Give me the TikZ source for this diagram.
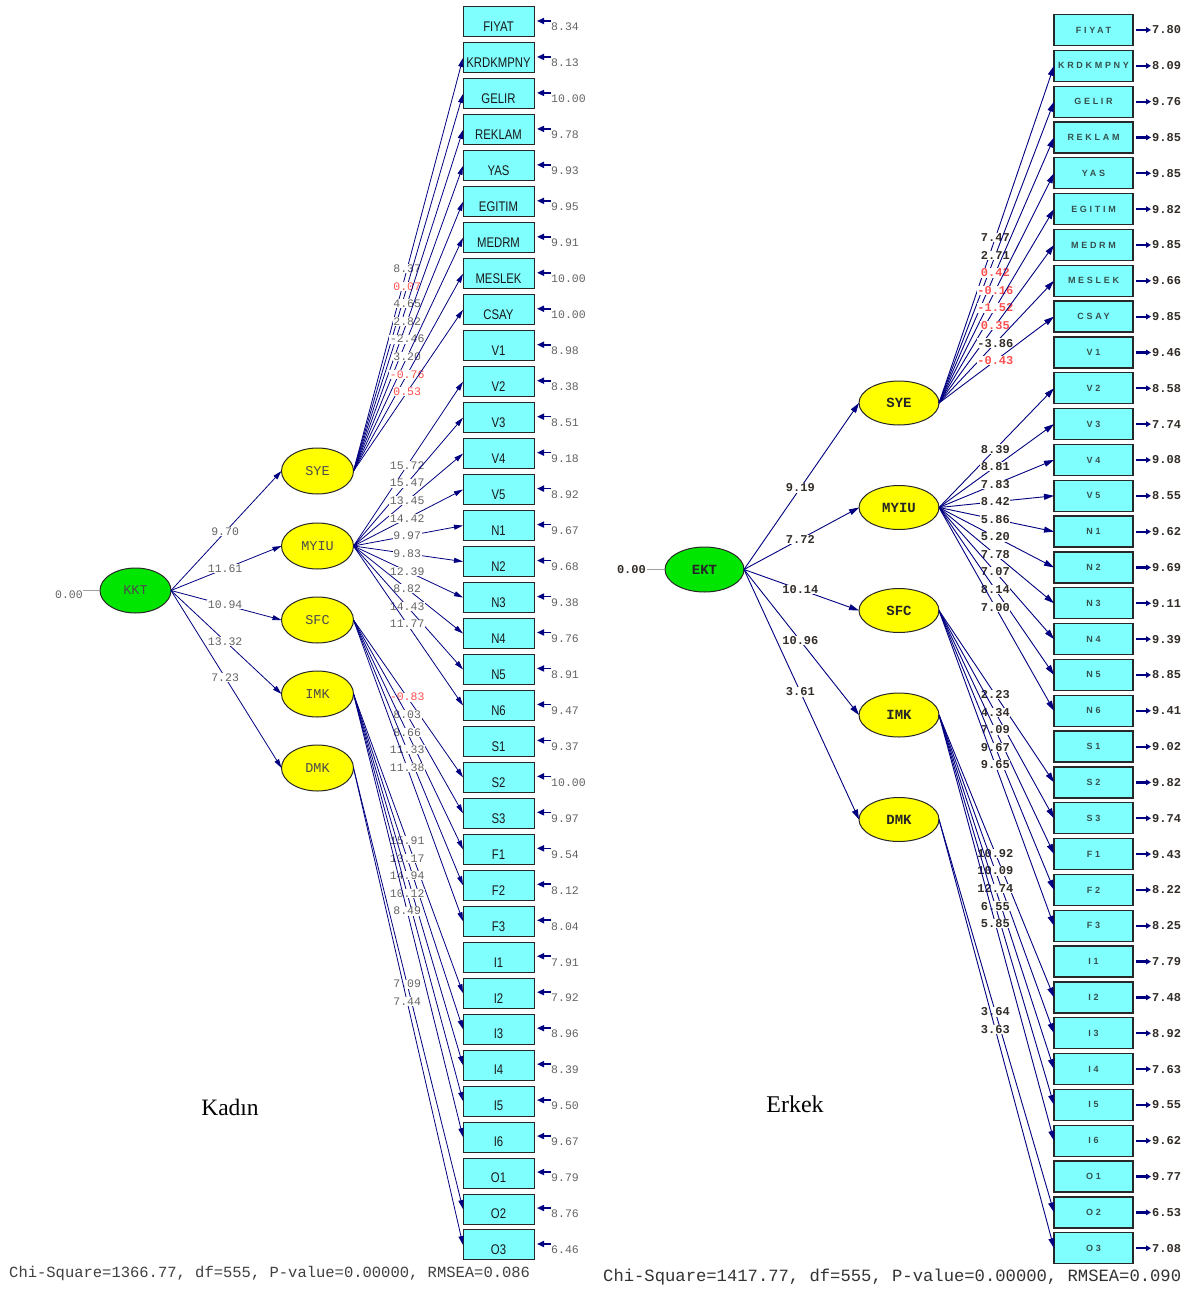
\documentclass[tikz,border=0pt]{standalone}
\usepackage{fontspec}
\setmainfont{Liberation Serif}
\newfontfamily\monof{Liberation Mono}
\newfontfamily\boxf[FakeStretch=0.81]{Liberation Sans}
\newfontfamily\rboxf[LetterSpace=30]{Liberation Sans}
\usetikzlibrary{arrows.meta,shapes.geometric}
\definecolor{pathblue}{RGB}{0,0,128}
\definecolor{boxcyan}{RGB}{128,255,255}
\definecolor{facyellow}{RGB}{255,255,0}
\definecolor{topgreen}{RGB}{0,230,0}
\definecolor{lgray}{RGB}{100,100,100}
\definecolor{sigred}{RGB}{255,80,80}
\definecolor{rdark}{RGB}{50,45,40}
\definecolor{rboxtext}{RGB}{52,80,76}
\definecolor{edge}{RGB}{40,40,40}
\definecolor{zeroline}{RGB}{160,160,160}

\tikzset{
  lbox/.style={draw=edge, line width=1pt, fill=boxcyan, minimum width=71pt, minimum height=30pt, inner sep=0pt, outer sep=0pt},
  rbox/.style={draw=edge, line width=1.3pt, fill=boxcyan, minimum width=79pt, minimum height=31pt, inner sep=0pt, outer sep=0pt, font=\rboxf\bfseries\fontsize{9}{9}\selectfont, text=rboxtext},
  ltext/.style={font=\boxf\fontsize{14}{14}\selectfont, text=black!90, yshift=-5pt, inner sep=0pt},
  latent/.style={ellipse, draw=edge, line width=1pt, inner sep=0pt, outer sep=0pt},
  lfac/.style={latent, fill=facyellow, minimum width=72pt, minimum height=46pt, font=\monof\fontsize{13.5}{14}\selectfont, text=black!70},
  rfac/.style={latent, fill=facyellow, minimum width=80pt, minimum height=44pt, font=\monof\bfseries\fontsize{14}{14}\selectfont, text=black!85},
  ltop/.style={lfac, fill=topgreen, minimum width=71pt, minimum height=45pt},
  rtop/.style={rfac, fill=topgreen, minimum width=79pt, minimum height=45pt},
  lpath/.style={draw=pathblue, line width=0.8pt, -{Triangle[length=9pt,width=5pt]}},
  rpath/.style={draw=pathblue, line width=0.9pt, -{Triangle[length=10pt,width=6pt]}},
  lnum/.style={font=\monof\fontsize{11.5}{11.5}\selectfont, text=lgray, inner sep=0.6pt, fill=white},
  lns/.style={lnum, text=sigred},
  rnum/.style={font=\monof\bfseries\fontsize{12}{12}\selectfont, text=rdark, inner sep=0.6pt, fill=white},
  rns/.style={rnum, text=sigred},
  lerr/.style={font=\monof\fontsize{11.5}{11.5}\selectfont, text=lgray, inner sep=0pt},
  rerr/.style={font=\monof\bfseries\fontsize{12}{12}\selectfont, text=rdark, inner sep=0pt},
  lres/.style={draw=pathblue, line width=1.6pt, -{Triangle[length=7pt,width=6pt]}, shorten >=3pt},
  rres/.style={draw=pathblue, line width=2.2pt, -{Triangle[length=5pt,width=5.5pt]}, shorten <=3pt, shorten >=1pt},
  zline/.style={draw=zeroline, line width=0.8pt},
  fitnote/.style={inner sep=0pt, anchor=west},
}

\begin{document}
\begin{tikzpicture}[x=1pt,y=-1pt]
\fill[white] (0,0) rectangle (1194,1289);
\useasboundingbox (0,0) rectangle (1194,1289);

% ---------------- Kadin model ----------------
\foreach \n [count=\i from 0] in {FIYAT,KRDKMPNY,GELIR,REKLAM,YAS,EGITIM,MEDRM,MESLEK,CSAY,V1,V2,V3,V4,V5,N1,N2,N3,N4,N5,N6,S1,S2,S3,F1,F2,F3,I1,I2,I3,I4,I5,I6,O1,O2,O3}{
  \node[lbox, label={[ltext]center:\n}] (Lb\i) at (498.5,{22+35.97*\i}) {};
}
\foreach \v [count=\i from 0] in {8.34,8.13,10.00,9.78,9.93,9.95,9.91,10.00,10.00,8.98,8.38,8.51,9.18,8.92,9.67,9.68,9.38,9.76,8.91,9.47,9.37,10.00,9.97,9.54,8.12,8.04,7.91,7.92,8.96,8.39,9.50,9.67,9.79,8.76,6.46}{
  \coordinate (Le\i) at ([xshift=17pt,yshift=1pt]Lb\i.east);
  \draw[lres] (Le\i) -- ([yshift=1pt]Lb\i.east);
  \node[lerr, anchor=west] (Ln\i) at ([yshift=-6pt]Le\i) {\v};
}

\node[ltop] (KKT) at (135.5,590.5) {KKT};
\node[lfac] (LSYE) at (317.5,471) {SYE};
\node[lfac] (LMYIU) at (317.5,546) {MYIU};
\node[lfac] (LSFC) at (317.5,620) {SFC};
\node[lfac] (LIMK) at (317.5,694) {IMK};
\node[lfac] (LDMK) at (317.5,768) {DMK};

\coordinate (Lz) at ([xshift=-17pt]KKT.west);
\draw[zline] (Lz) -- (KKT.west);
\node[lerr, anchor=east] (Lzn) at ([yshift=-4pt]Lz) {0.00};

\foreach \f/\v/\k in {SYE/9.70/1,MYIU/11.61/2,SFC/10.94/3,IMK/13.32/4,DMK/7.23/5}{
  \draw[lpath] (KKT.east) -- node[lnum, pos=0.49] (Lg\k) {\v} (L\f.west);
}

\foreach \f/\k/\v/\s in {SYE/1/8.37/lnum,SYE/2/0.07/lns,SYE/3/4.65/lnum,SYE/4/2.82/lnum,SYE/5/-2.46/lnum,SYE/6/3.20/lnum,SYE/7/-0.76/lns,SYE/8/0.53/lns,
  MYIU/10/15.72/lnum,MYIU/11/15.47/lnum,MYIU/12/13.45/lnum,MYIU/13/14.42/lnum,MYIU/14/9.97/lnum,MYIU/15/9.83/lnum,MYIU/16/12.39/lnum,MYIU/17/8.82/lnum,MYIU/18/14.43/lnum,MYIU/19/11.77/lnum,
  SFC/21/-0.83/lns,SFC/22/8.03/lnum,SFC/23/8.66/lnum,SFC/24/11.33/lnum,SFC/25/11.38/lnum,
  IMK/27/15.91/lnum,IMK/28/13.17/lnum,IMK/29/14.94/lnum,IMK/30/10.12/lnum,IMK/31/8.49/lnum,
  DMK/33/7.09/lnum,DMK/34/7.44/lnum}{
  \draw[lpath] (L\f.east) -- node[\s, pos=0.49] (Lt\k) {\v} (Lb\k.west);
}

\node[font=\fontsize{23.5}{24}\selectfont, inner sep=0pt] (kadin) at (230,1107) {Kadın};
\node[fitnote, font=\monof\fontsize{15.5}{16}\selectfont, text=black!75] (chiL) at (9,1273) {Chi-Square=1366.77, df=555, P-value=0.00000, RMSEA=0.086};

% ---------------- Erkek model ----------------
\foreach \n [count=\i from 0] in {FIYAT,KRDKMPNY,GELIR,REKLAM,YAS,EGITIM,MEDRM,MESLEK,CSAY,V1,V2,V3,V4,V5,N1,N2,N3,N4,N5,N6,S1,S2,S3,F1,F2,F3,I1,I2,I3,I4,I5,I6,O1,O2,O3}{
  \node[rbox] (Rb\i) at (1093.5,{30+35.83*\i}) {\n};
}
\foreach \v [count=\i from 0] in {7.80,8.09,9.76,9.85,9.85,9.82,9.85,9.66,9.85,9.46,8.58,7.74,9.08,8.55,9.62,9.69,9.11,9.39,8.85,9.41,9.02,9.82,9.74,9.43,8.22,8.25,7.79,7.48,8.92,7.63,9.55,9.62,9.77,6.53,7.08}{
  \coordinate (Re\i) at ([xshift=19pt]Rb\i.east);
  \draw[rres] (Rb\i.east) -- (Re\i);
  \node[rerr, anchor=west] (Rn\i) at (Re\i) {\v};
}

\node[rtop] (EKT) at (704.5,569.5) {EKT};
\node[rfac] (RSYE) at (899,403) {SYE};
\node[rfac] (RMYIU) at (899,507.5) {MYIU};
\node[rfac] (RSFC) at (899,610.5) {SFC};
\node[rfac] (RIMK) at (899,715) {IMK};
\node[rfac] (RDMK) at (899,819.5) {DMK};

\coordinate (Rz) at ([xshift=-18pt]EKT.west);
\draw[zline] (Rz) -- (EKT.west);
\node[rerr, anchor=east] (Rzn) at ([xshift=-1pt]Rz) {0.00};

\foreach \f/\v/\k in {SYE/9.19/1,MYIU/7.72/2,SFC/10.14/3,IMK/10.96/4,DMK/3.61/5}{
  \draw[rpath] (EKT.east) -- node[rnum, pos=0.49] (Rg\k) {\v} (R\f.west);
}

\foreach \f/\k/\v/\s in {SYE/1/7.47/rnum,SYE/2/2.71/rnum,SYE/3/0.42/rns,SYE/4/-0.16/rns,SYE/5/-1.52/rns,SYE/6/0.35/rns,SYE/7/-3.86/rnum,SYE/8/-0.43/rns,
  MYIU/10/8.39/rnum,MYIU/11/8.81/rnum,MYIU/12/7.83/rnum,MYIU/13/8.42/rnum,MYIU/14/5.86/rnum,MYIU/15/5.20/rnum,MYIU/16/7.78/rnum,MYIU/17/7.07/rnum,MYIU/18/8.14/rnum,MYIU/19/7.00/rnum,
  SFC/21/2.23/rnum,SFC/22/4.34/rnum,SFC/23/7.09/rnum,SFC/24/9.67/rnum,SFC/25/9.65/rnum,
  IMK/27/10.92/rnum,IMK/28/10.09/rnum,IMK/29/12.74/rnum,IMK/30/6.55/rnum,IMK/31/5.85/rnum,
  DMK/33/3.64/rnum,DMK/34/3.63/rnum}{
  \draw[rpath] (R\f.east) -- node[\s, pos=0.49] (Rt\k) {\v} (Rb\k.west);
}

\node[font=\fontsize{24}{24}\selectfont, inner sep=0pt] (erkek) at (795,1104) {Erkek};
\node[fitnote, font=\monof\fontsize{17.2}{18}\selectfont, text=black!80] (chiR) at (603,1277) {Chi-Square=1417.77, df=555, P-value=0.00000, RMSEA=0.090};
\end{tikzpicture}
\end{document}
